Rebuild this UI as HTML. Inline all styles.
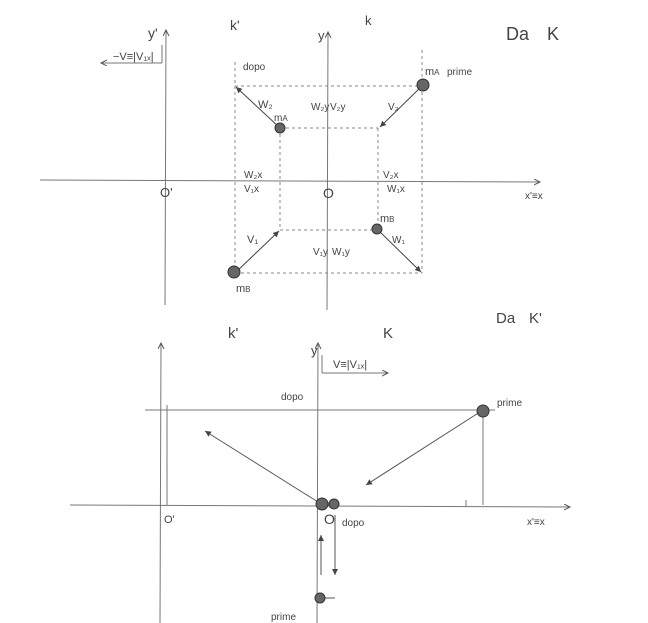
<!DOCTYPE html>
<html><head><meta charset="utf-8"><style>
html,body{margin:0;padding:0;background:#fff;width:648px;height:623px;overflow:hidden}
svg{display:block}
text{font-family:"Liberation Sans",sans-serif;fill:#444}
</style></head><body>
<svg width="648" height="623" viewBox="0 0 648 623" xmlns="http://www.w3.org/2000/svg">
<defs>
<marker id="a" markerWidth="8" markerHeight="8" refX="6" refY="3" orient="auto" markerUnits="userSpaceOnUse"><path d="M0,0 L6,3 L0,6" fill="none" stroke="#555" stroke-width="1"/></marker>
<marker id="f" markerWidth="8" markerHeight="8" refX="6" refY="3" orient="auto" markerUnits="userSpaceOnUse"><path d="M0,0 L6,3 L0,6 z" fill="#444"/></marker>
</defs>
<g stroke="#777" stroke-width="1" fill="none">
<!-- top figure axes -->
<line x1="40" y1="180" x2="540" y2="182" marker-end="url(#a)"/>
<line x1="165" y1="305" x2="166" y2="30" marker-end="url(#a)"/>
<line x1="327" y1="310" x2="328" y2="32" marker-end="url(#a)"/>
<line x1="162" y1="63" x2="101" y2="63" marker-end="url(#a)"/>
<line x1="162" y1="45" x2="162" y2="63"/>
<!-- dashed box -->
<g stroke-dasharray="3,3" stroke="#888">
<line x1="235" y1="62" x2="235" y2="273"/>
<line x1="422" y1="50" x2="422" y2="273"/>
<line x1="235" y1="86" x2="422" y2="86"/>
<line x1="235" y1="273" x2="422" y2="273"/>
<line x1="280" y1="128" x2="280" y2="230"/>
<line x1="378" y1="128" x2="378" y2="230"/>
<line x1="280" y1="128" x2="378" y2="128"/>
<line x1="280" y1="230" x2="378" y2="230"/>
</g>
<g stroke="#444">
<line x1="422" y1="86" x2="380" y2="127" marker-end="url(#f)"/>
<line x1="280" y1="128" x2="236" y2="87" marker-end="url(#f)"/>
<line x1="235" y1="273" x2="279" y2="231" marker-end="url(#f)"/>
<line x1="378" y1="230" x2="421" y2="272" marker-end="url(#f)"/>
</g>
<!-- bottom figure -->
<line x1="70" y1="505" x2="570" y2="507" marker-end="url(#a)"/>
<line x1="160" y1="623" x2="161" y2="343" marker-end="url(#a)"/>
<line x1="317" y1="623" x2="318" y2="343" marker-end="url(#a)"/>
<line x1="322" y1="373" x2="388" y2="373" marker-end="url(#a)"/>
<line x1="322" y1="355" x2="322" y2="373"/>
<line x1="145" y1="410" x2="495" y2="410"/>
<line x1="167" y1="405" x2="167" y2="505"/>
<line x1="483" y1="410" x2="483" y2="505"/>
<line x1="466" y1="500" x2="466" y2="507"/>
<g stroke="#555">
<line x1="318" y1="502" x2="205" y2="431" marker-end="url(#f)"/>
<line x1="483" y1="410" x2="366" y2="485" marker-end="url(#f)"/>
<line x1="321" y1="575" x2="321" y2="535" marker-end="url(#f)"/>
<line x1="335" y1="515" x2="335" y2="575" marker-end="url(#f)"/>
<line x1="320" y1="598" x2="335" y2="598"/>
</g>
</g>
<g fill="#666" stroke="#333" stroke-width="1">
<circle cx="423" cy="85" r="6"/>
<circle cx="280" cy="128" r="5"/>
<circle cx="234" cy="272" r="6"/>
<circle cx="377" cy="229" r="5"/>
<circle cx="483" cy="411" r="6"/>
<circle cx="322" cy="504" r="6"/>
<circle cx="334" cy="504" r="5"/>
<circle cx="320" cy="598" r="5"/>
</g>
<g font-size="11">
<text x="148" y="38" font-size="14">y'</text>
<text x="230" y="30" font-size="14">k'</text>
<text x="318" y="40" font-size="13">y</text>
<text x="365" y="25" font-size="13">k</text>
<text x="506" y="40" font-size="18">Da</text><text x="547" y="40" font-size="18">K</text>
<text x="113" y="60">−V≡|V₁ₓ|</text>
<text x="243" y="70" font-size="10">dopo</text>
<text x="425" y="75">m<tspan font-size="8">A</tspan></text>
<text x="447" y="75" font-size="10">prime</text>
<text x="258" y="108">W₂</text>
<text x="274" y="121" font-size="10">m<tspan font-size="8">A</tspan></text>
<text x="311" y="110" font-size="10">W₂y</text>
<text x="330" y="110" font-size="10">V₂y</text>
<text x="388" y="110" font-size="10">V₂</text>
<text x="244" y="178" font-size="10">W₂x</text>
<text x="244" y="192" font-size="10">V₁x</text>
<text x="383" y="178" font-size="10">V₂x</text>
<text x="387" y="192" font-size="10">W₁x</text>
<text x="160" y="197" font-size="13">O'</text>
<text x="323" y="198" font-size="14">O</text>
<text x="525" y="199" font-size="10">x'≡x</text>
<text x="380" y="222" font-size="11">m<tspan font-size="8">B</tspan></text>
<text x="247" y="243">V₁</text>
<text x="392" y="243" font-size="10">W₁</text>
<text x="313" y="255" font-size="10">V₁y</text>
<text x="332" y="255" font-size="10">W₁y</text>
<text x="236" y="292">m<tspan font-size="8">B</tspan></text>
<text x="228" y="338" font-size="15">k'</text>
<text x="383" y="338" font-size="15">K</text>
<text x="496" y="323" font-size="15">Da</text><text x="529" y="323" font-size="15">K'</text>
<text x="311" y="355" font-size="13">y</text>
<text x="333" y="368">V≡|V₁ₓ|</text>
<text x="281" y="400" font-size="10">dopo</text>
<text x="497" y="406" font-size="10">prime</text>
<text x="164" y="523" font-size="11">O'</text>
<text x="324" y="524" font-size="14">O</text>
<text x="342" y="526" font-size="10">dopo</text>
<text x="527" y="525" font-size="10">x'≡x</text>
<text x="271" y="620" font-size="10">prime</text>
</g>
</svg>
</body></html>
